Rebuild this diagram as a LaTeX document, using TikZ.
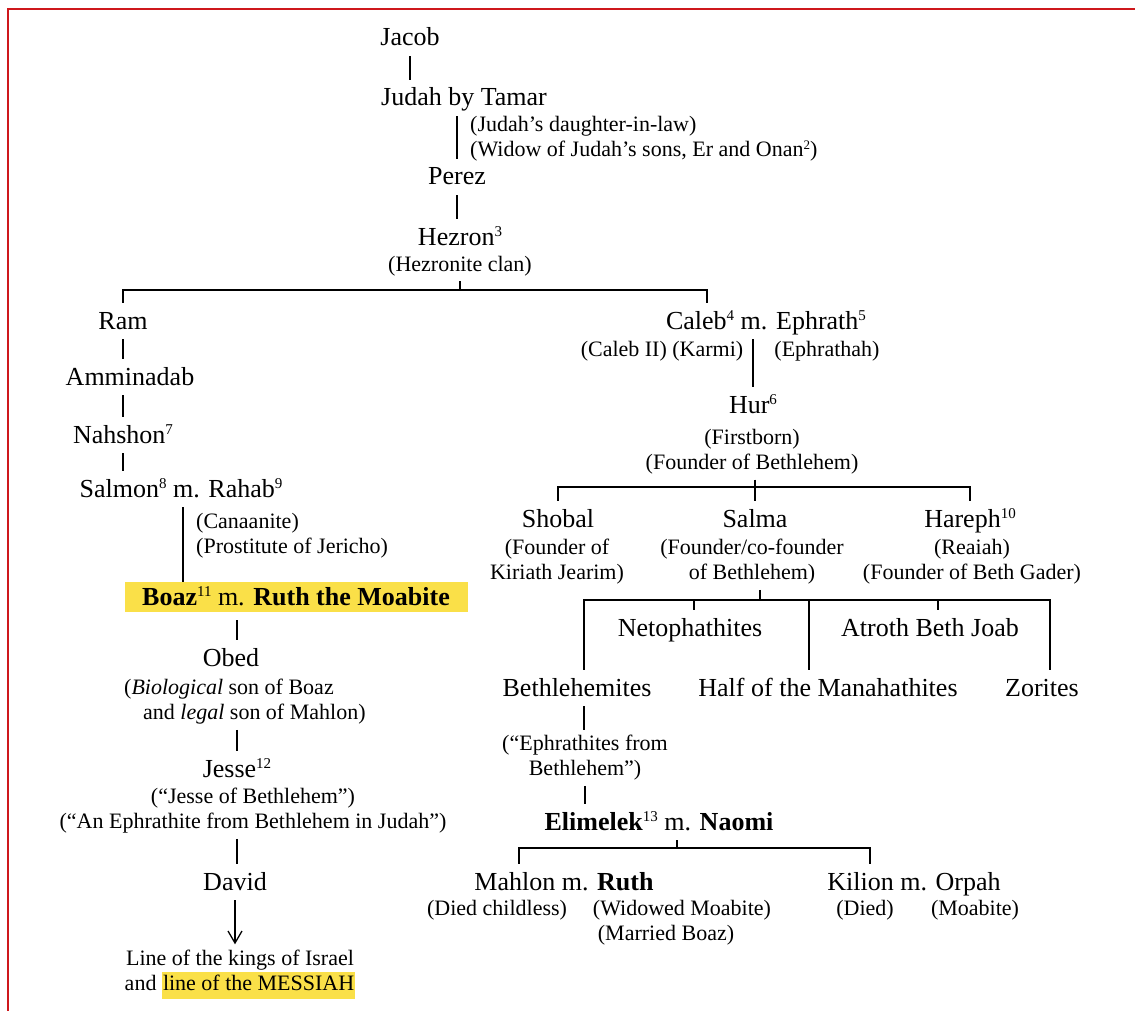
\documentclass[tikz,border=0pt]{standalone}
\usepackage{fontspec}
\setmainfont{Liberation Serif}
\usepackage{xcolor}
\usetikzlibrary{arrows.meta}
\definecolor{hlyellow}{RGB}{250,224,72}
\definecolor{framered}{RGB}{206,24,28}
\newcommand{\hlbox}[1]{{\setlength{\fboxsep}{1pt}\colorbox{hlyellow}{\strut #1}}}
\newcommand{\fn}[1]{\raisebox{9pt}{\fontsize{15}{15}\selectfont #1}}
\newcommand{\fnsmall}[1]{\raisebox{7.5pt}{\fontsize{13}{13}\selectfont #1}}

\begin{document}
\begin{tikzpicture}[x=1pt, y=-1pt,
	person/.style={font=\fontsize{26}{30}\selectfont, text height=20pt, text depth=4pt, inner ysep=6pt, inner xsep=2pt},
	remark/.style={font=\fontsize{22}{25}\selectfont, inner ysep=5pt, inner xsep=2pt, align=center, yshift=-2pt},
	link/.style={line width=1.3pt},
	>={Straight Barb[length=12pt, width=14pt]}]
	\useasboundingbox (0,0) rectangle (1135,1011);
	% frame
	\draw[framered, line width=2.5pt] (8,1011) -- (8,9) -- (1135,9);
	
	% Jacob down to Hezron
	\node[person] (jacob) at (410,38) {Jacob};
	\node[person] (judah) at (464,98) {Judah by Tamar};
	\node[remark, anchor=west, align=left] (judahnote) at (468,137) {(Judah’s daughter-in-law)\\(Widow of Judah’s sons, Er and Onan\fnsmall{2})};
	\node[person] (perez) at (457,177) {Perez};
	\node[person] (hezron) at (460,237) {Hezron\fn{3}};
	\node[remark] (hezclan) at (460,264) {(Hezronite clan)};
	
	\draw[link] (jacob.south) -- (jacob.south |- judah.north);
	\draw[link] (perez.north |- judah.south) -- (perez.north);
	\draw[link] (perez.south) -- (perez.south |- hezron.north);
	
	\coordinate (hezbar) at (460,290);
	\draw[link] (hezclan.south) -- (hezbar);
	
	% line of Ram
	\node[person] (ram) at (123,321) {Ram};
	\node[person] (amminadab) at (130,377) {Amminadab};
	\node[person] (nahshon) at (123,435) {Nahshon\fn{7}};
	\node[person] (salmon) at (181,489) {Salmon\fn{8} m. Rahab\fn{9}};
	\node[remark, anchor=west, align=left] (salmonnote) at (194,534) {(Canaanite)\\(Prostitute of Jericho)};
	\node[person, fill=hlyellow, minimum width=343pt, inner ysep=3pt] (boaz) at (296,597) {\textbf{Boaz}\fn{11} m. \textbf{Ruth the Moabite}};
	\node[person] (obed) at (231,658) {Obed};
	\node[remark, anchor=west, align=left] (obednote) at (122,700) {(\textit{Biological} son of Boaz\\\hspace*{19pt}and \textit{legal} son of Mahlon)};
	\node[person] (jesse) at (237,769) {Jesse\fn{12}};
	\node[remark] (jessenote) at (253,809) {(“Jesse of Bethlehem”)\\(“An Ephrathite from Bethlehem in Judah”)};
	\node[person] (david) at (235,882) {David};
	\node[remark] (kings) at (240,972) {Line of the kings of Israel\\and \hlbox{line of the MESSIAH}};
	
	\draw[link] (ram.north) |- (hezbar);
	\draw[link] (ram.south) -- (ram.south |- amminadab.north);
	\draw[link] (ram |- amminadab.south) -- (ram |- nahshon.north);
	\draw[link] (ram |- nahshon.south) -- (ram |- salmon.north);
	\draw[link] ([xshift=2pt]salmon.south) -- ([xshift=2pt]salmon.south |- boaz.north);
	\draw[link, shorten <=8pt] (jesse |- boaz.south) -- (jesse |- obed.north);
	\draw[link] (jesse |- obednote.south) -- (jesse.north);
	\draw[link] (jesse |- jessenote.south) -- (jesse |- david.north);
	\draw[link, ->] (david.south) -- (david.south |- kings.north);
	
	% line of Caleb
	\node[person] (caleb) at (766,321) {Caleb\fn{4} m. Ephrath\fn{5}};
	\node[remark] (calebnote) at (662,349) {(Caleb II) (Karmi)};
	\node[remark] (ephrathah) at (827,349) {(Ephrathah)};
	\node[person] (hur) at (753,405) {Hur\fn{6}};
	\node[remark] (hurnote) at (752,450) {(Firstborn)\\(Founder of Bethlehem)};
	
	\draw[link] (hezbar) -| ([xshift=-59pt]caleb.north);
	\draw[link] (hur.north |- caleb.south) -- (hur.north);
	
	% sons of Hur
	\node[person] (shobal) at (558,519) {Shobal};
	\node[remark] (shobalnote) at (557,560) {(Founder of\\Kiriath Jearim)};
	\node[person] (salma) at (755,519) {Salma};
	\node[remark] (salmanote) at (752,560) {(Founder/co-founder\\of Bethlehem)};
	\node[person] (hareph) at (970,519) {Hareph\fn{10}};
	\node[remark] (harephnote) at (972,560) {(Reaiah)\\(Founder of Beth Gader)};
	
	\coordinate (hurbar) at (755,487);
	\draw[link] (hurnote.south -| hurbar) -- (hurbar |- salma.north);
	\draw[link] (shobal.north) |- (hurbar) -| (hareph.north);
	
	% clans of Salma
	\node[person] (netoph) at (690,628) {Netophathites};
	\node[person] (atroth) at (930,628) {Atroth Beth Joab};
	\node[person] (bethle) at (577,688) {Bethlehemites};
	\node[person] (manah) at (828,688) {Half of the Manahathites};
	\node[person] (zorites) at (1042,688) {Zorites};
	
	\coordinate (salmabar) at (760,600);
	\draw[link] (salmanote.south -| salmabar) -- (salmabar);
	\draw[link] ([xshift=7pt]bethle.north) |- (salmabar) -| ([xshift=8pt]zorites.north);
	\draw[link] ([xshift=4pt]netoph.north) -- ([xshift=4pt]netoph.north |- salmabar);
	\draw[link] ([xshift=-19pt]manah.north) -- ([xshift=-19pt]manah.north |- salmabar);
	\draw[link] ([xshift=8pt]atroth.north) -- ([xshift=8pt]atroth.north |- salmabar);
	
	% Elimelek and sons
	\node[remark] (ephnote) at (585,756) {(“Ephrathites from\\Bethlehem”)};
	\node[person] (elimelek) at (659,822) {\textbf{Elimelek}\fn{13} m. \textbf{Naomi}};
	\node[person] (mahlon) at (564,882) {Mahlon m. \textbf{Ruth}};
	\node[remark] (died1) at (497,908) {(Died childless)};
	\node[remark] (widowed) at (682,908) {(Widowed Moabite)};
	\node[remark] (married) at (666,933) {(Married Boaz)};
	\node[person] (kilion) at (914,882) {Kilion m. Orpah};
	\node[remark] (died2) at (865,908) {(Died)};
	\node[remark] (moabite) at (975,908) {(Moabite)};
	
	\draw[link] ([xshift=7pt]bethle.south) -- ([xshift=7pt]bethle.south |- ephnote.north);
	\draw[link] (ephnote.south) -- (ephnote.south |- elimelek.north);
	
	\coordinate (elibar) at (677,848);
	\draw[link] ([xshift=18pt]elimelek.south) -- (elibar);
	\draw[link] ([xshift=-45pt]mahlon.north) |- (elibar) -| ([xshift=-44pt]kilion.north);
\end{tikzpicture}
\end{document}
